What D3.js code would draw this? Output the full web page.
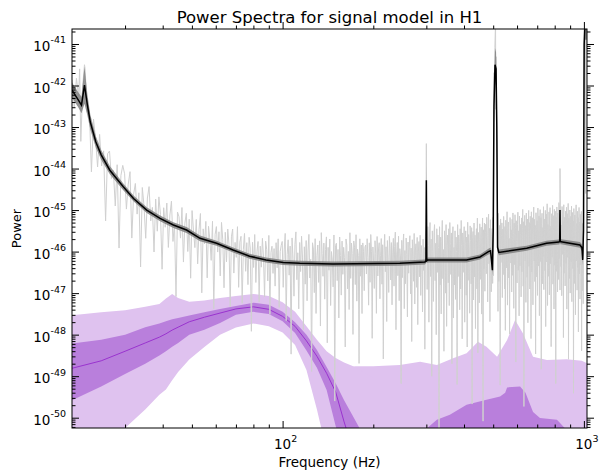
<!DOCTYPE html>
<html>
<head>
<meta charset="utf-8">
<script src="https://cdn.jsdelivr.net/npm/d3@7"></script>
<style>
body { margin: 0; background: #fff; }
text { font-family: "DejaVu Sans", sans-serif; fill: #000; }
</style>
</head>
<body>
<svg id="drawing_region"></svg>
<script>
// smoothed PSD (black line), log10 of power
const medFreq  = [20, 21, 21.5, 22, 22.5, 23, 24, 25, 26.7, 29.6, 32, 35.4, 39.2, 43.4, 48, 53.2,
                  60.4, 68.5, 77.7, 88.1, 100.5, 114, 147, 245, 297, 299, 300, 301, 303,
                  408, 452, 482, 490, 497, 500, 503, 507, 511, 514, 517, 522,
                  646, 752, 826, 831, 833, 835, 840, 970, 985, 991, 997, 1002, 1008, 1024];
const medPower = [-42.11, -42.35, -42.47, -41.99, -42.47, -42.88, -43.36, -43.67, -44.04, -44.44, -44.72, -45.0, -45.2, -45.36, -45.48, -45.68,
                  -45.80, -45.96, -46.11, -46.2, -46.26, -46.28, -46.30, -46.28, -46.25, -46.22, -44.28, -46.22, -46.2,
                  -46.2, -46.13, -46.0, -45.98, -46.45, -45.5, -42.5, -41.5, -41.6, -43.0, -45.9, -46.02,
                  -45.92, -45.80, -45.77, -45.76, -45.0, -45.76, -45.76, -45.84, -45.9, -46.2, -45.5, -41.0, -40.5, -40.5];
// half width of the grey band round the black line (dex)
const medHalf  = [0.18, 0.18, 0.2, 0.45, 0.25, 0.18, 0.14, 0.12, 0.1, 0.08, 0.07, 0.07, 0.07, 0.07, 0.07, 0.07,
                  0.06, 0.06, 0.06, 0.06, 0.06, 0.06, 0.06, 0.06, 0.06, 0.06, 0.35, 0.06, 0.06,
                  0.06, 0.06, 0.07, 0.08, 0.12, 0.2, 0.4, 0.4, 0.4, 0.3, 0.1, 0.07,
                  0.06, 0.06, 0.06, 0.06, 0.15, 0.06, 0.06, 0.07, 0.08, 0.12, 0.3, 0.4, 0.4, 0.4];

// raw PSD: deviation from the smoothed line (dex), one value per frequency bin
const dataOffset = [
  // 20-30 Hz
  0.25, -0.35, 0.45, 0.1, -0.9, 0.3, 0.5, -0.2, 0.15, -1.1, 0.35, 0.05, -0.5, 0.4, -0.25, 0.2, -1.4, 0.3, 0.45, -0.15,
  0.1, -0.7, 0.35, -1.6, 0.2, 0.5,
  // 30-100 Hz
  0.35, -0.45, 0.2, 0.55, -1.0, 0.1, 0.4, -0.3, 0.25, -1.5, 0.45, 0.05, -0.7, 0.3, 0.6, -0.2, 0.15, -0.9, 0.4, -0.35,
  0.5, 0.1, -1.2, 0.3, -0.15, 0.45, -0.6, 0.2, 0.55, -0.4, 0.05, -1.7, 0.35, 0.25, -0.25, 0.5, -0.8, 0.15, 0.4, -0.5,
  0.3, -1.1, 0.55, 0.1, -0.3, 0.4, -0.65, 0.2, 0.6, -1.3, 0.25, -0.1, 0.45, -0.9, 0.35, 0.05, -0.45, 0.5, -1.6, 0.2,
  0.4, -0.2, 0.3, -0.75, 0.55, 0.15, -1.0, 0.35, -0.35, 0.45, 0.1, -1.4, 0.3, 0.5, -0.55, 0.2, -0.15, 0.6, -0.85, 0.25,
  0.4, -1.2, 0.1, 0.5, -0.4, 0.3, -0.7, 0.45, 0.2, -1.8, 0.35, -0.25, 0.55, -0.6, 0.15, 0.4, -1.05, 0.3, -0.2, 0.5,
  0.05, -0.9, 0.45, 0.25, -0.5, 0.6, -1.3, 0.2, 0.35, -0.3, 0.3, -0.6, 0.45, -0.15, 0.55, -1.1, 0.25, 0.4,
  // 100-300 Hz
  0.5, -0.6, 0.3, 0.7, -1.4, 0.2, 0.55, -0.3, 0.4, -2.2, 0.6, 0.1, -0.8, 0.45, 0.75, -0.4, 0.25, -1.1, 0.5, -0.2,
  0.65, 0.15, -1.6, 0.4, -0.5, 0.55, -0.9, 0.3, 0.7, -0.35, 0.1, -2.6, 0.5, 0.35, -0.7, 0.6, -1.2, 0.2, 0.45, -0.45,
  0.55, -1.5, 0.75, 0.25, -0.3, 0.5, -0.85, 0.35, 0.65, -1.9, 0.4, -0.15, 0.6, -1.0, 0.3, 0.1, -0.55, 0.7, -3.3, 0.45,
  0.5, -0.4, 0.35, -1.3, 0.65, 0.2, -0.75, 0.55, -0.25, 0.4, 0.15, -2.0, 0.6, 0.45, -0.6, 0.3, -1.1, 0.75, -0.35, 0.5,
  0.25, -1.7, 0.55, 0.4, -0.5, 0.7, -0.9, 0.35, 0.2, -2.4, 0.6, -0.3, 0.45, -1.2, 0.5, 0.3, -0.65, 0.4,
  0.45, -0.25, 0.6, 0.15, -1.0, 0.5, -0.45, 0.7, 0.3, -1.8, 0.4, 0.05, -0.6, 0.55, 0.25, -1.2, 0.65, -0.3, 0.35, 0.5,
  -0.85, 0.2, 0.6, -0.5, 0.45, -2.3, 0.3, 0.7, -0.2, 0.4, -1.4, 0.55, 0.1, -0.7, 0.65, 0.35, -0.4, 0.5, -1.0, 0.25,
  0.6, -0.55, 0.4, 0.75, -1.6, 0.2, 0.5, -0.3, 0.65, -0.9, 0.35, 0.15, -2.9, 0.55, -0.35, 0.45, 0.7, -1.1, 0.3, -0.5,
  0.6, 0.2, -1.3, 0.5, -0.25, 0.4, 0.65, -0.75, 0.35, -1.9, 0.55, 0.1, -0.45, 0.7, -1.0, 0.3, 0.45, -0.6, 0.6, -1.5,
  0.25, 0.5, -0.35, 0.65, -0.8, 0.4, 0.2, -1.2, 0.55, -0.2, 0.35, -2.1, 0.6, 0.45,
  // 300-1024 Hz
  0.6, -0.7, 0.8, 0.35, -1.5, 0.55, 0.9, -0.4, 0.5, -2.8, 0.7, 0.2, -1.0, 0.65, 0.85, -0.5, 0.4, -1.8, 0.75, -0.3,
  0.6, 0.3, -4.2, 0.8, -0.6, 0.55, -1.3, 0.45, 0.95, -0.45, 0.25, -2.2, 0.7, 0.5, -0.8, 0.85, -1.6, 0.35, 0.6, -0.55,
  0.75, -1.1, 0.9, 0.4, -0.35, 0.65, -2.5, 0.5, 0.8, -1.4, 0.3, -0.6, 0.7, -0.95, 0.55, 0.2, -3.0, 0.85, -0.4, 0.6,
  0.45, -1.2, 0.75, -0.7, 0.95, 0.35, -1.9, 0.65, -0.3, 0.5, 0.8, -1.5, 0.4, 0.7, -0.85, 0.55, -2.1, 0.9, -0.5, 0.6,
  0.3, -1.3, 0.8, 0.45, -0.6, 0.75, -3.5, 0.5, 0.65, -1.0, 0.85, -0.45, 0.55, -1.7, 0.4, 0.7, -0.75, 0.95, -2.3, 0.6,
  0.35, -1.1, 0.8, 0.5, -0.55, 0.7, -1.4, 0.45, 0.9, -4.0, 0.6, -0.35, 0.75, -0.9, 0.5,
  0.7, -0.5, 0.85, 0.4, -1.2, 0.6, 0.9, -0.3, 0.55, -1.7, 0.75, 0.25, -0.8, 0.65, 0.95, -0.6, 0.45, -2.4, 0.8, -0.35,
  0.55, 0.85, -1.0, 0.6, -0.45, 0.75, 0.3, -1.5, 0.9, -0.7, 0.5, 0.65, -3.2, 0.8, -0.25, 0.4, 0.7, -1.1, 0.55, -0.55,
  0.85, 0.35, -0.9, 0.6, -1.9, 0.75, 0.5, -0.4, 0.95, -1.3, 0.45, 0.7, -0.65, 0.3, -2.0, 0.8, 0.6, -0.3, 0.5, -1.0,
  0.75, -0.6, 0.9, 0.4, -1.4, 0.65, -0.35, 0.85, 0.55, -2.7, 0.7, 0.2, -0.8, 0.6, 0.9, -0.5, 0.45, -1.6, 0.8, -0.4,
  0.6, 0.35, -1.15, 0.75, -0.55, 0.5, 0.95, -0.9, 0.65, -3.8, 0.4, 0.8, -0.3, 0.55, -1.3, 0.85, 0.3, -0.7, 0.7, -1.8,
  0.5, 0.9, -0.45, 0.6, -1.0, 0.75, 0.4, -2.2, 0.85, -0.6, 0.55, 0.7, -1.4, 0.35, 0.95, -0.35, 0.65, -0.85, 0.5, -2.6,
  0.8, 0.45, -0.75, 0.6, -1.2, 0.9, 0.3, -0.5, 0.7, -1.7, 0.55, 0.85, -0.4, 0.65, -3.0, 0.5, 0.75, -0.95, 0.4, -0.3,
  0.9, -1.1, 0.6, 0.35, -0.65, 0.8, -2.0, 0.55, 0.7, -0.45, 0.95, -1.5, 0.45, 0.25, -0.8, 0.75, -1.25, 0.6, 0.85, -0.5,
  0.4, -2.5, 0.7, 0.55, -0.35, 0.9, -1.0, 0.65, 0.3, -1.6, 0.8, -0.55, 0.5, 0.75, -3.4, 0.6, -0.7, 0.85, 0.45, -1.2,
  0.7, 0.35, -0.9, 0.95, -0.4, 0.55, -1.9, 0.8, 0.6, -0.6, 0.4, -1.3, 0.85, 0.65, -0.3, 0.5, -2.3, 0.9, -0.75, 0.6,
  0.45, -1.05, 0.75, 0.3, -0.5, 0.85, -1.6, 0.55, 0.7, -0.35, 0.95, -2.8, 0.6, 0.4, -0.85, 0.8, -1.2, 0.5, 0.65, -0.45,
  0.9, -1.4, 0.35, 0.75, -0.6, 0.55, -3.6, 0.85, 0.45, -0.95, 0.7, 0.3, -1.7, 0.6, 0.95, -0.4, 0.5, -1.1, 0.8, -0.55,
  0.65, -2.1, 0.4, 0.9, -0.7, 0.55, -1.3, 0.75, 0.35, -0.45, 0.85, -2.5, 0.6, 0.5, -0.8, 0.7, -1.5, 0.95, 0.45, -0.35,
  0.6, -1.0, 0.8, 0.3, -4.1, 0.7, 0.5, -0.6, 0.85
];
// raw PSD line peaks [Hz, log10 power]
const dataPeaks = [[21.2, -41.6], [22, -41.5], [300, -43.4], [509, -40.3], [833, -44.0], [1006, -40.3]];

// signal model, low frequency component (log10 power)
const sigFreq    = [20, 25, 30, 35, 39, 41, 43, 45, 49, 55, 62, 70, 80, 90, 100, 110, 120, 130, 140, 150, 160, 170, 180, 190, 200];
const sigLightHi = [-47.53, -47.46, -47.41, -47.33, -47.26, -47.13, -47.02, -47.12, -47.21, -47.18, -47.12, -47.07, -47.02, -47.07, -47.22,
                    -47.45, -47.8, -48.12, -48.4, -48.56, -48.67, -48.75, -48.85, -48.95, -49.05];
const sigDarkHi  = [-48.21, -48.12, -48.0, -47.82, -47.73, -47.68, -47.63, -47.6, -47.54, -47.46, -47.38, -47.31, -47.23, -47.28, -47.45,
                    -47.7, -48.0, -48.37, -48.78, -49.17, -49.58, -49.92, -50.25, -50.55, -50.8];
const sigMid     = [-48.81, -48.63, -48.4, -48.2, -48.06, -47.98, -47.89, -47.82, -47.69, -47.58, -47.48, -47.38, -47.33, -47.39, -47.56,
                    -47.8, -48.15, -48.52, -48.93, -49.38, -50.1, -50.7, -51.2, -51.6, -52.0];
const sigDarkLo  = [-49.58, -49.25, -48.95, -48.7, -48.5, -48.4, -48.29, -48.2, -48.0, -47.88, -47.72, -47.52, -47.45, -47.5, -47.68,
                    -47.96, -48.38, -48.8, -49.33, -50.2, -50.8, -51.3, -51.6, -51.8, -52.0];
const sigLightLo = [-51.2, -50.7, -50.25, -49.8, -49.45, -49.32, -49.1, -48.9, -48.6, -48.3, -48.0, -47.83, -47.73, -47.8, -47.95,
                    -48.25, -48.85, -49.8, -50.8, -51.5, -52.0, -52.0, -52.0, -52.0, -52.0];

// signal model, high frequency component
const hfFreq     = [136, 150, 162, 175, 200, 245, 286, 325, 368, 408, 445, 475, 515, 556, 591, 628, 678, 754, 877, 984, 1024];
const hfLightHi  = [-48.95, -48.85, -48.78, -48.76, -48.76, -48.73, -48.65, -48.73, -48.57, -48.45, -48.17, -48.29, -48.53, -48.13,
                    -47.65, -47.97, -48.53, -48.61, -48.59, -48.63, -48.69];
const hfDarkFreq = [280, 302, 325, 359, 408, 475, 527, 548, 556, 614, 640, 678, 715, 814, 864, 900, 1024];
const hfDarkHi   = [-50.7, -50.25, -50.05, -49.93, -49.69, -49.57, -49.49, -49.4, -49.27, -49.25, -49.4, -49.86, -50.01, -50.05,
                    -50.25, -50.5, -50.9];

const xTickExp = [2, 3];
const yTickExp = [-50, -49, -48, -47, -46, -45, -44, -43, -42, -41];

class SpectrumPlot {
    constructor(config) {
        this.config = config;
        this.init();
    }

    init() {
        let self = this;
        let c = self.config;
        self.inner_width = c.width - c.margin.left - c.margin.right;
        self.inner_height = c.height - c.margin.top - c.margin.bottom;

        self.svg = d3.select(c.parent)
            .attr('width', c.width)
            .attr('height', c.height);

        self.svg.append('defs').append('clipPath').attr('id', 'plotclip')
            .append('rect')
            .attr('width', self.inner_width)
            .attr('height', self.inner_height);

        self.chart = self.svg.append('g')
            .attr('transform', `translate(${c.margin.left}, ${c.margin.top})`);

        self.plot = self.chart.append('g').attr('clip-path', 'url(#plotclip)');

        self.xscale = d3.scaleLog()
            .domain(c.xdomain)
            .range([0, self.inner_width]);

        self.yscale = d3.scaleLog()
            .domain(c.ydomain)
            .range([self.inner_height, 0]);

        // piecewise interpolation of the smoothed PSD
        self.medScale = d3.scaleLog().domain(medFreq).range(medPower).clamp(true);

        // frequency bins get denser toward high frequency, like the raw FFT grid
        self.binScale = d3.scaleSqrt()
            .domain(c.xdomain)
            .range([0, dataOffset.length - 1]);
    }

    render() {
        let self = this;
        let x = self.xscale, y = self.yscale;
        let p = v => y(Math.pow(10, v));
        let bottom = self.inner_height + 10;

        // high frequency signal component
        let hfLight = hfFreq.map((f, i) => ({f: f, hi: hfLightHi[i]}));
        self.plot.append('path')
            .datum(hfLight)
            .attr('fill', '#dfc2ef')
            .attr('d', d3.area().x(d => x(d.f)).y0(bottom).y1(d => p(d.hi)));

        // low frequency signal component
        let sig = sigFreq.map((f, i) => ({f: f, lh: sigLightHi[i], dh: sigDarkHi[i], m: sigMid[i], dl: sigDarkLo[i], ll: sigLightLo[i]}));
        self.plot.append('path')
            .datum(sig)
            .attr('fill', '#dfc2ef')
            .attr('d', d3.area().x(d => x(d.f)).y0(d => p(d.ll)).y1(d => p(d.lh)));

        let hfDark = hfDarkFreq.map((f, i) => ({f: f, hi: hfDarkHi[i]}));
        self.plot.append('path')
            .datum(hfDark)
            .attr('fill', '#b97fdc')
            .attr('d', d3.area().x(d => x(d.f)).y0(bottom).y1(d => p(d.hi)));

        self.plot.append('path')
            .datum(sig)
            .attr('fill', '#b97fdc')
            .attr('d', d3.area().x(d => x(d.f)).y0(d => p(d.dl)).y1(d => p(d.dh)));

        self.plot.append('path')
            .datum(sig)
            .attr('fill', 'none')
            .attr('stroke', '#9a33cf')
            .attr('stroke-width', 1)
            .attr('d', d3.line().x(d => x(d.f)).y(d => p(d.m)));

        // raw PSD
        let raw = dataOffset.map((o, i) => {
            let f = self.binScale.invert(i);
            return {f: f, v: self.medScale(f) + o};
        });
        dataPeaks.forEach(d => raw.push({f: d[0], v: d[1]}));
        raw.sort((a, b) => a.f - b.f);

        self.plot.append('path')
            .datum(raw)
            .attr('fill', 'none')
            .attr('stroke', '#d0d0d0')
            .attr('stroke-width', 1)
            .attr('d', d3.line().x(d => x(d.f)).y(d => p(d.v)));

        // smoothed PSD with its band
        let med = medFreq.map((f, i) => ({f: f, v: medPower[i], h: medHalf[i]}));
        self.plot.append('path')
            .datum(med)
            .attr('fill', '#808080')
            .attr('fill-opacity', 0.85)
            .attr('d', d3.area().x(d => x(d.f)).y0(d => p(d.v - d.h)).y1(d => p(d.v + d.h)));

        self.plot.append('path')
            .datum(med)
            .attr('fill', 'none')
            .attr('stroke', '#000')
            .attr('stroke-width', 1.5)
            .attr('d', d3.line().x(d => x(d.f)).y(d => p(d.v)));

        self.drawAxes();
    }

    drawAxes() {
        let self = this;
        let x = self.xscale, y = self.yscale;
        let W = self.inner_width, H = self.inner_height;

        let xMajor = xTickExp.map(e => Math.pow(10, e));
        let xMinor = [];
        [1, 2, 3].forEach(e => d3.range(2, 10).forEach(m => {
            let v = m * Math.pow(10, e);
            if (v > x.domain()[0] && v < x.domain()[1]) xMinor.push(v);
        }));
        let yMajor = yTickExp.map(e => Math.pow(10, e));
        let yMinor = [];
        d3.range(-51, -40).forEach(e => d3.range(2, 10).forEach(m => {
            let v = m * Math.pow(10, e);
            if (v > y.domain()[0] && v < y.domain()[1]) yMinor.push(v);
        }));

        let tickStyle = g => {
            g.select('.domain').remove();
            g.selectAll('line').attr('stroke', '#000').attr('stroke-width', 1);
            g.selectAll('text').remove();
        };

        // inward ticks on all four sides
        [[d3.axisBottom, H, 7, xMajor], [d3.axisBottom, H, 3.5, xMinor],
         [d3.axisTop, 0, -7, xMajor], [d3.axisTop, 0, -3.5, xMinor]].forEach(a => {
            self.chart.append('g')
                .attr('transform', `translate(0, ${a[1]})`)
                .call(a[0](x).tickValues(a[3]).tickSize(-a[2]).tickFormat(''))
                .call(tickStyle);
        });
        [[d3.axisLeft, 0, 7, yMajor], [d3.axisLeft, 0, 3.5, yMinor],
         [d3.axisRight, W, -7, yMajor], [d3.axisRight, W, -3.5, yMinor]].forEach(a => {
            self.chart.append('g')
                .attr('transform', `translate(${a[1]}, 0)`)
                .call(a[0](y).tickValues(a[3]).tickSize(-a[2]).tickFormat(''))
                .call(tickStyle);
        });

        self.chart.append('rect')
            .attr('width', W)
            .attr('height', H)
            .attr('fill', 'none')
            .attr('stroke', '#000')
            .attr('stroke-width', 1);

        // tick labels as 10^k
        yTickExp.forEach(e => {
            let t = self.chart.append('text')
                .attr('x', -6)
                .attr('y', y(Math.pow(10, e)) + 7)
                .attr('text-anchor', 'end')
                .style('font-size', '13.5px');
            t.append('tspan').text('10');
            t.append('tspan').attr('dy', -7.5).style('font-size', '9.5px').text(e);
        });
        xTickExp.forEach(e => {
            let t = self.chart.append('text')
                .attr('x', x(Math.pow(10, e)) + 3)
                .attr('y', H + 21)
                .attr('text-anchor', 'middle')
                .style('font-size', '13.5px');
            t.append('tspan').text('10');
            t.append('tspan').attr('dy', -7.5).style('font-size', '9.5px').text(e);
        });

        self.chart.append('text')
            .attr('x', W / 2)
            .attr('y', -6)
            .attr('text-anchor', 'middle')
            .style('font-size', '16.5px')
            .text(self.config.title);

        self.chart.append('text')
            .attr('x', W / 2)
            .attr('y', H + 38.5)
            .attr('text-anchor', 'middle')
            .style('font-size', '13.5px')
            .text(self.config.xlabel);

        self.chart.append('text')
            .attr('transform', `translate(${-51}, ${H / 2}) rotate(-90)`)
            .attr('text-anchor', 'middle')
            .style('font-size', '13px')
            .text(self.config.ylabel);
    }
}

let config = {
    parent: '#drawing_region',
    width: 600,
    height: 471,
    margin: {top: 29, right: 13, bottom: 43, left: 72},
    xdomain: [20, 1024],
    ydomain: [Math.pow(10, -50.248), Math.pow(10, -40.639)],
    title: 'Power Spectra for signal model in H1',
    xlabel: 'Frequency (Hz)',
    ylabel: 'Power'
};

let spectrum_plot = new SpectrumPlot(config);
spectrum_plot.render();
</script>
</body>
</html>
